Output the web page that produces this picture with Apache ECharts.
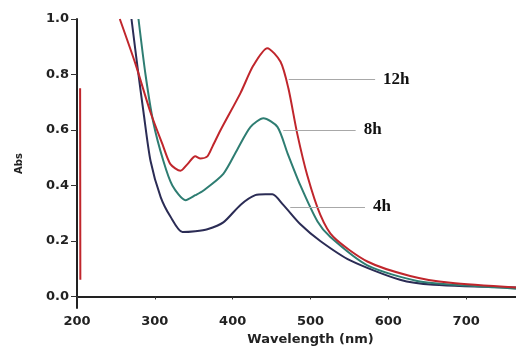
<!DOCTYPE html>
<html>
<head>
<meta charset="utf-8">
<script src="https://cdn.jsdelivr.net/npm/echarts@6/dist/echarts.min.js"></script>
<style>
  html, body {margin: 0; padding: 0; background: #fff;}
  #chart {width: 516px; height: 351px;}
</style>
</head>
<body>
<div id="chart"></div>
<script>
// absorbance spectra, [wavelength nm, Abs]
const curve12h = [
  [204, 0.75], [204.3, 0.06], [205, '-'],
  [255, 1.0], [275, 0.839], [294.5, 0.663], [310, 0.547], [320, 0.477], [333, 0.453],
  [342, 0.477], [352, 0.505], [358.5, 0.497], [367.5, 0.505], [374, 0.54], [384.5, 0.60],
  [410, 0.733], [426.5, 0.832], [444.5, 0.895], [461.5, 0.846], [471.5, 0.751],
  [483, 0.586], [496, 0.435], [512.5, 0.295], [529.5, 0.214], [573, 0.126],
  [628, 0.074], [680, 0.049], [764, 0.032]
];
const curve8h = [
  [279, 1.0], [288, 0.80], [298, 0.628], [311, 0.488], [322.5, 0.40], [339.5, 0.347],
  [352, 0.365], [362.5, 0.382], [388, 0.442], [406, 0.530], [423, 0.611], [439.5, 0.642],
  [457.5, 0.611], [470.5, 0.516], [487, 0.40], [509, 0.270], [525.5, 0.214],
  [573, 0.112], [637, 0.056], [701, 0.039], [764, 0.028]
];
const curve4h = [
  [270, 1.0], [278, 0.821], [285.5, 0.663], [294.5, 0.488], [307.5, 0.358], [320, 0.288],
  [335.5, 0.232], [352, 0.235], [367.5, 0.242], [388, 0.267], [410, 0.33], [429, 0.365],
  [442, 0.368], [451, 0.368], [465, 0.33], [487, 0.26], [512.5, 0.20], [551, 0.13],
  [615, 0.06], [658, 0.042], [764, 0.032]
];
const seriesNames = ['12h', '8h', '4h'];
const xTicks = [200, 300, 400, 500, 600, 700];
const yTicks = [0, 0.2, 0.4, 0.6, 0.8, 1.0];

const myChart = echarts.init(document.getElementById('chart'));

const leader = (x1, x2, y) => ({
  silent: true,
  symbol: 'none',
  lineStyle: {color: '#a8a8a8', width: 1, type: 'solid'},
  label: {
    show: true,
    position: 'end',
    distance: 8,
    formatter: '{a}',
    fontFamily: 'Liberation Serif',
    fontWeight: 'bold',
    fontSize: 17,
    color: '#111'
  },
  data: [[{coord: [x1, y]}, {coord: [x2, y]}]]
});

const axisFont = {fontFamily: 'DejaVu Sans', fontWeight: 'bold', fontSize: 12, color: '#222'};

myChart.setOption({
  backgroundColor: '#fff',
  animation: false,
  grid: {left: 77, right: 0, top: 19, bottom: 35},
  xAxis: {
    type: 'value',
    min: 200,
    max: 764,
    name: 'Wavelength (nm)',
    nameLocation: 'middle',
    nameGap: 21,
    nameTextStyle: Object.assign({}, axisFont, {fontSize: 13, padding: [0, 0, 0, 28]}),
    splitLine: {show: false},
    axisLine: {lineStyle: {color: '#222', width: 2}},
    axisTick: {customValues: xTicks, length: 3, lineStyle: {color: '#333'}},
    axisLabel: Object.assign({customValues: xTicks, margin: 7}, axisFont, {fontSize: 13})
  },
  yAxis: {
    type: 'value',
    min: -0.042,
    max: 1.0,
    name: 'Abs',
    nameLocation: 'middle',
    nameRotate: 90,
    nameGap: 53,
    nameTextStyle: Object.assign({}, axisFont, {fontSize: 10}),
    splitLine: {show: false},
    axisLine: {show: true, lineStyle: {color: '#222', width: 2}},
    axisTick: {show: true, customValues: yTicks, length: 6, lineStyle: {color: '#333'}},
    axisLabel: Object.assign({
      customValues: yTicks,
      margin: 8,
      formatter: v => v.toFixed(1)
    }, axisFont, {fontSize: 13})
  },
  series: [
    {
      name: seriesNames[0],
      type: 'line',
      data: curve12h,
      showSymbol: false,
      smooth: 0.25,
      connectNulls: false,
      lineStyle: {color: '#c0262c', width: 2},
      markLine: leader(472, 583, 0.782),
      z: 3
    },
    {
      name: seriesNames[1],
      type: 'line',
      data: curve8h,
      showSymbol: false,
      smooth: 0.25,
      lineStyle: {color: '#2e7d72', width: 2},
      markLine: leader(465, 558, 0.60),
      z: 2
    },
    {
      name: seriesNames[2],
      type: 'line',
      data: curve4h,
      showSymbol: false,
      smooth: 0.25,
      lineStyle: {color: '#2b2c55', width: 2},
      markLine: leader(474, 570, 0.323),
      z: 1
    }
  ]
});
</script>
</body>
</html>
